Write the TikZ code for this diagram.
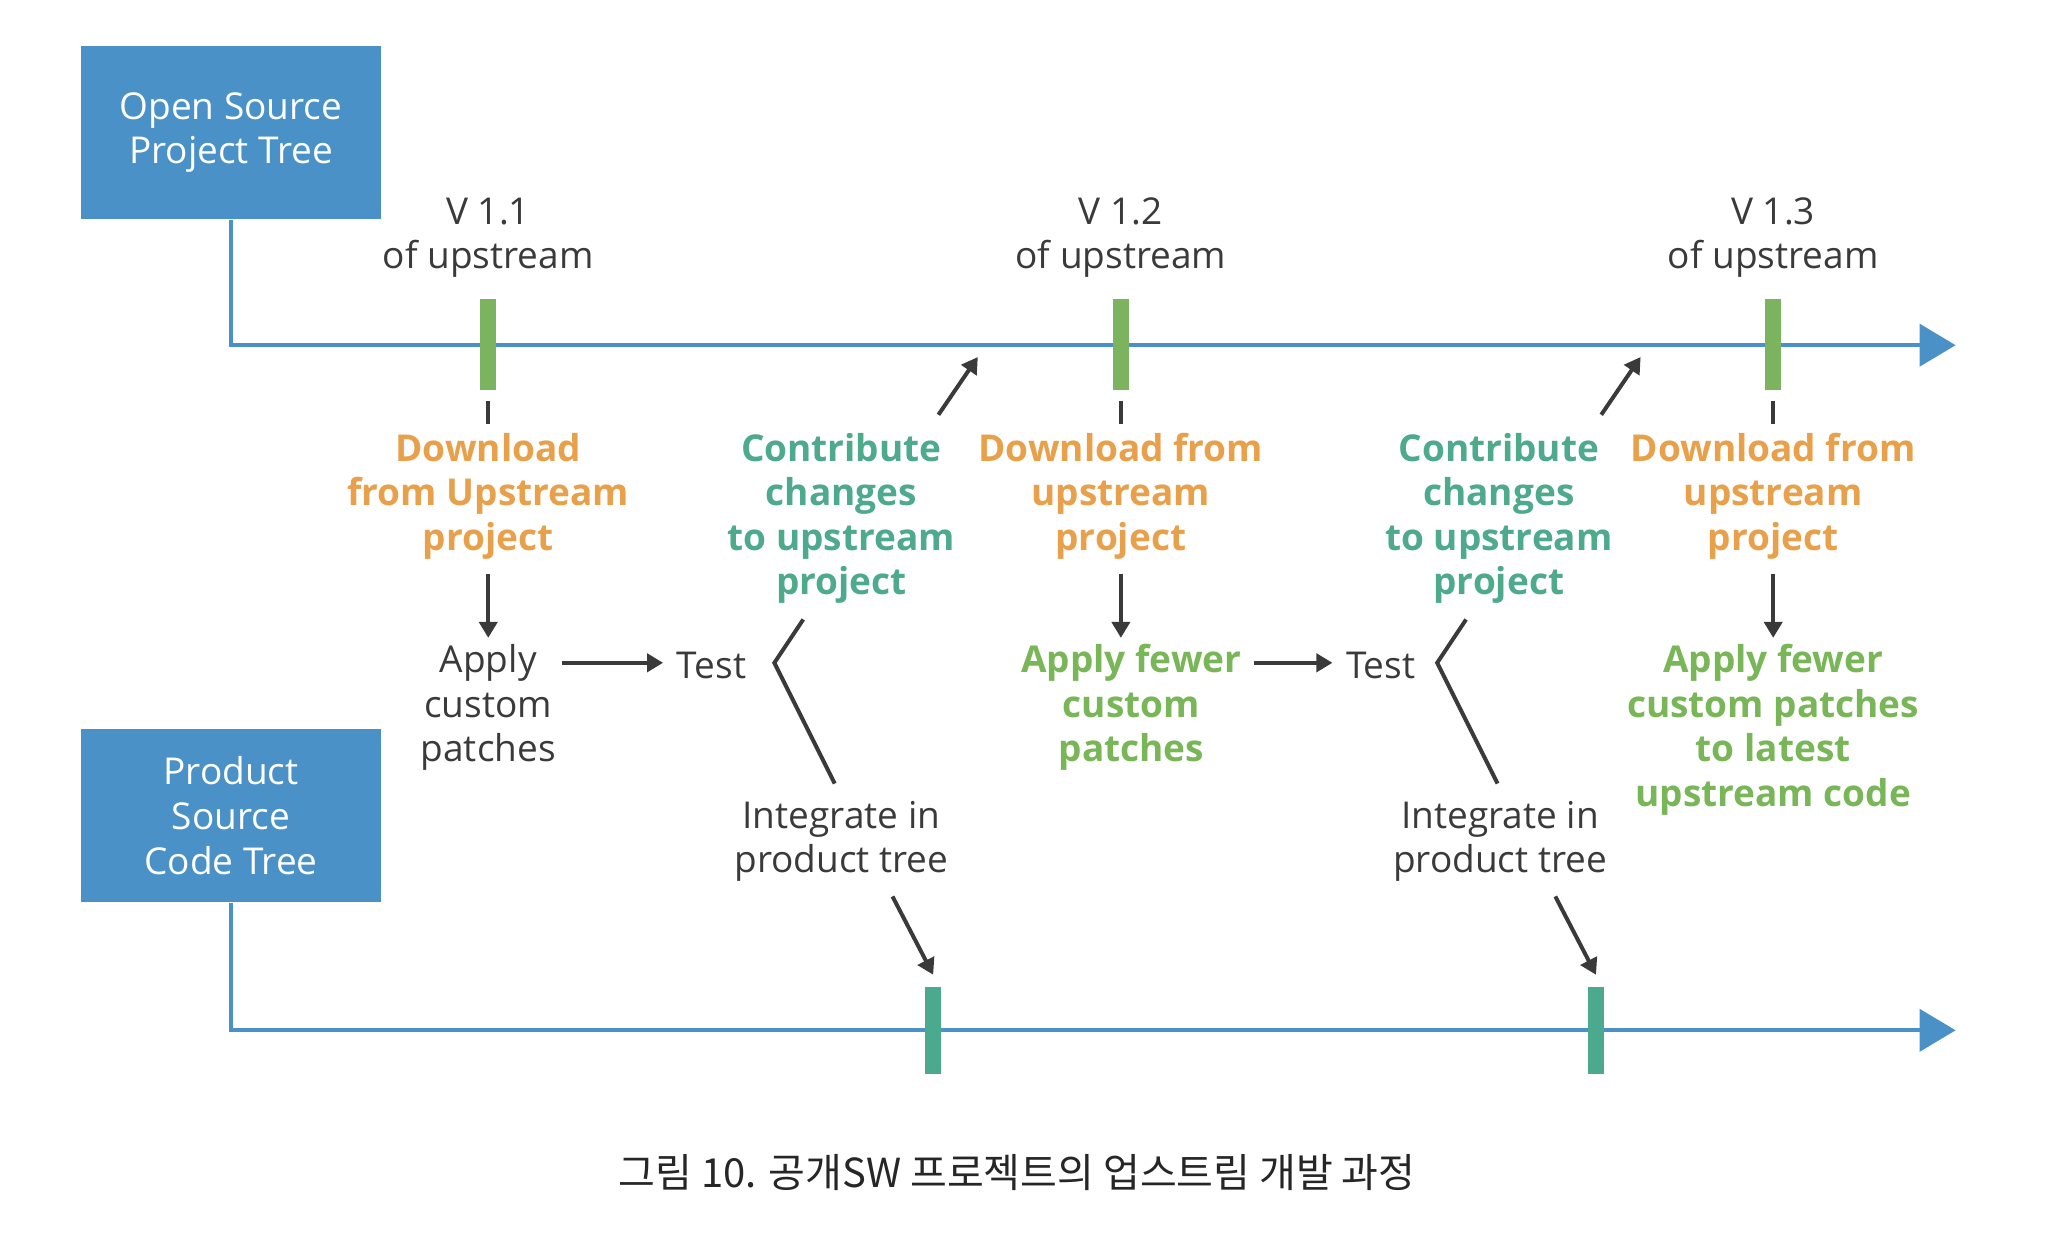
\documentclass[tikz,border=0pt]{standalone}
\usepackage{fontspec}
\setmainfont{Open Sans}
\newfontfamily\cjk{Noto Sans CJK KR}
\usetikzlibrary{arrows.meta,calc}
\definecolor{boxblue}{HTML}{4A91C7}
\definecolor{linblue}{HTML}{4A91C7}
\definecolor{bargreen}{HTML}{7CB35E}
\definecolor{barteal}{HTML}{4BAA8D}
\definecolor{orangetx}{HTML}{E8A04A}
\definecolor{tealtx}{HTML}{4DAA8B}
\definecolor{greentx}{HTML}{78B657}
\definecolor{darktx}{HTML}{3A3A3A}
\begin{document}
\begin{tikzpicture}[x=0.65625pt,y=-0.65625pt,
  treebox/.style={fill=boxblue,draw=none,minimum width=149.6pt,minimum height=86.6pt,inner sep=0pt,align=center,text=white,font=\fontsize{18.5}{22.3}\selectfont},
  txt/.style={align=center,inner sep=0pt,text=darktx,font=\fontsize{18.5}{22.3}\selectfont},
  btxt/.style={align=center,inner sep=0pt,font=\fontsize{18.5}{22.3}\selectfont\bfseries},
  otxt/.style={btxt,text=orangetx},
  ttxt/.style={btxt,text=tealtx},
  gtxt/.style={btxt,text=greentx},
  vbar/.style={fill=bargreen,draw=none,minimum width=7.9pt,minimum height=45.3pt,inner sep=0pt},
  pbar/.style={fill=barteal,draw=none,minimum width=7.9pt,minimum height=43.3pt,inner sep=0pt},
  tline/.style={draw=linblue,line width=2pt,-{Triangle[length=18pt,width=21pt]}},
  darr/.style={draw=darktx,line width=2pt,-{Triangle[length=8pt,width=9pt]}},
  dline/.style={draw=darktx,line width=2pt},
]
\useasboundingbox (0,0) rectangle (1568,951);

% boxes
\node[treebox] (ob) at (176,101) {Open Source\\Project Tree};
\node[treebox] (pb) at (176,621.5) {Product\\Source\\Code Tree};

% timeline end coordinates
\coordinate (topend) at (1490,263);
\coordinate (botend) at (1490,785);
\draw[tline] (ob.south) |- (topend);
\draw[tline] (pb.south) |- (botend);

% version labels
\node[txt] (vl1) at (372,181) {V 1.1\\of upstream};
\node[txt] (vl2) at (854,181) {V 1.2\\of upstream};
\node[txt] (vl3) at (1351,181) {V 1.3\\of upstream};

% version bars
\node[vbar] (v1) at (372,262.5) {};
\node[vbar] (v2) at (854,262.5) {};
\node[vbar] (v3) at (1351,262.5) {};

% product bars
\node[pbar] (p1) at (711,785) {};
\node[pbar] (p2) at (1216,785) {};

% download texts
\node[otxt] (dl1) at (372,378) {Download\\from Upstream\\project};
\node[otxt] (dl2) at (854,378) {Download from\\upstream\\project};
\node[otxt] (dl3) at (1351,378) {Download from\\upstream\\project};

% apply texts
\node[txt] (ap1) at (372,539) {Apply\\custom\\patches};
\node[gtxt] (ap2) at (862,539) {Apply fewer\\custom\\patches};
\node[gtxt] (ap3) at (1351,556) {Apply fewer\\custom patches\\to latest\\upstream code};

% test
\node[txt] (t1) at (542,507) {Test};
\node[txt] (t2) at (1052,507) {Test};

% contribute
\node[ttxt] (c1) at (641,395) {Contribute\\changes\\to upstream\\project};
\node[ttxt] (c2) at (1142,395) {Contribute\\changes\\to upstream\\project};

% integrate
\node[txt] (i1) at (641,641) {Integrate in\\product tree};
\node[txt] (i2) at (1143,641) {Integrate in\\product tree};

% caption
\node[inner sep=0pt,text=black!85,font=\cjk\fontsize{20}{24}\selectfont] (cap) at (775,893) {그림 10. 공개SW 프로젝트의 업스트림 개발 과정};

% short ticks
\draw[dline] ($(v1.south)+(0,8)$) -- ($(v1.south)+(0,26)$);
\draw[dline] ($(v2.south)+(0,8)$) -- ($(v2.south)+(0,26)$);
\draw[dline] ($(v3.south)+(0,8)$) -- ($(v3.south)+(0,26)$);

% down arrows
\draw[darr] ($(dl1.south |- 0,437)$) -- ($(ap1.north |- 0,486)$);
\draw[darr] ($(dl2.south |- 0,437)$) -- ($(dl2.south |- 0,486)$);
\draw[darr] ($(dl3.south |- 0,437)$) -- ($(dl3.south |- 0,486)$);

% to test
\draw[darr,shorten <=3pt,shorten >=6.6pt] (ap1.east |- 0,505) -- (t1.west |- 0,505);
\draw[darr,shorten <=6pt,shorten >=6.6pt] (ap2.east |- 0,505) -- (t2.west |- 0,505);

% contribute arrows
\coordinate (ca1) at (715,316);
\coordinate (ce1) at (745,272);
\coordinate (ca2) at (1220,316);
\coordinate (ce2) at (1250,272);
\draw[darr] (ca1) -- (ce1);
\draw[darr] (ca2) -- (ce2);

% brackets
\coordinate (k1a) at (612,472);
\coordinate (k1) at (590,505);
\coordinate (k1b) at (636,597);
\coordinate (k2a) at (1117,472);
\coordinate (k2) at (1095,505);
\coordinate (k2b) at (1141,597);
\draw[dline] (k1a) -- (k1) -- (k1b);
\draw[dline] (k2a) -- (k2) -- (k2b);

% integrate arrows
\coordinate (ia1) at (680,683);
\coordinate (ia2) at (1185,683);
\draw[darr] (ia1) -- ($(p1.north)+(0,-9)$);
\draw[darr] (ia2) -- ($(p2.north)+(0,-9)$);
\end{tikzpicture}
\end{document}
